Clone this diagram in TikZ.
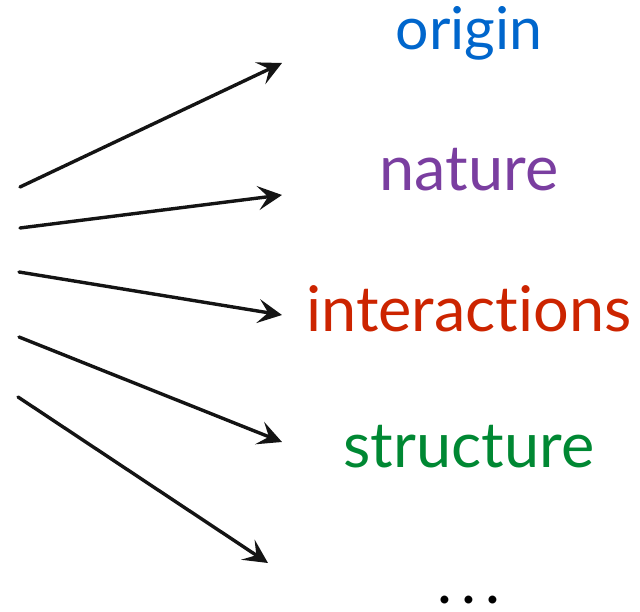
\documentclass[tikz,border=0pt]{standalone}
\usepackage{fontspec}
\setmainfont{Lato}[Ligatures={NoCommon,NoRare,NoDiscretionary}]
\usetikzlibrary{arrows.meta}
\definecolor{cOrigin}{RGB}{0,102,204}
\definecolor{cNature}{RGB}{122,62,160}
\definecolor{cInter}{RGB}{204,36,0}
\definecolor{cStruct}{RGB}{0,136,51}
\tikzset{
  word/.style={anchor=base, inner sep=0pt, font=\fontsize{63}{63}\selectfont},
  sketcharrow/.style={line width=3.4pt, line cap=round, black!92,
    -{Stealth[length=24pt,width=24pt,inset=10pt]}}
}
\begin{document}
\begin{tikzpicture}[x=1pt,y=-1pt]
\useasboundingbox (0,0) rectangle (640,612);
\node[word, text=cOrigin, font=\fontsize{59}{59}\selectfont] (origin) at (469,50) {origin};
\node[word, text=cNature] (nature) at (469,191) {nature};
\node[word, text=cInter] (inter) at (469,332) {interactions};
\node[word, text=cStruct] (struct) at (469,467) {structure};
\node[anchor=center, inner sep=0pt, text=black, font=\fontsize{63}{63}\selectfont] (dots) at (469,600) {.\kern9pt.\kern9pt.};
\coordinate (s1) at (20,187); \coordinate (e1) at (282,63);
\coordinate (s2) at (20,228); \coordinate (e2) at (282,195);
\coordinate (s3) at (19,272); \coordinate (e3) at (282,315);
\coordinate (s4) at (19,337); \coordinate (e4) at (282,442);
\coordinate (s5) at (18,397); \coordinate (e5) at (268,563);
\draw[sketcharrow] (s1) -- (e1);
\draw[sketcharrow] (s2) -- (e2);
\draw[sketcharrow] (s3) -- (e3);
\draw[sketcharrow] (s4) -- (e4);
\draw[sketcharrow] (s5) -- (e5);
\end{tikzpicture}
\end{document}
